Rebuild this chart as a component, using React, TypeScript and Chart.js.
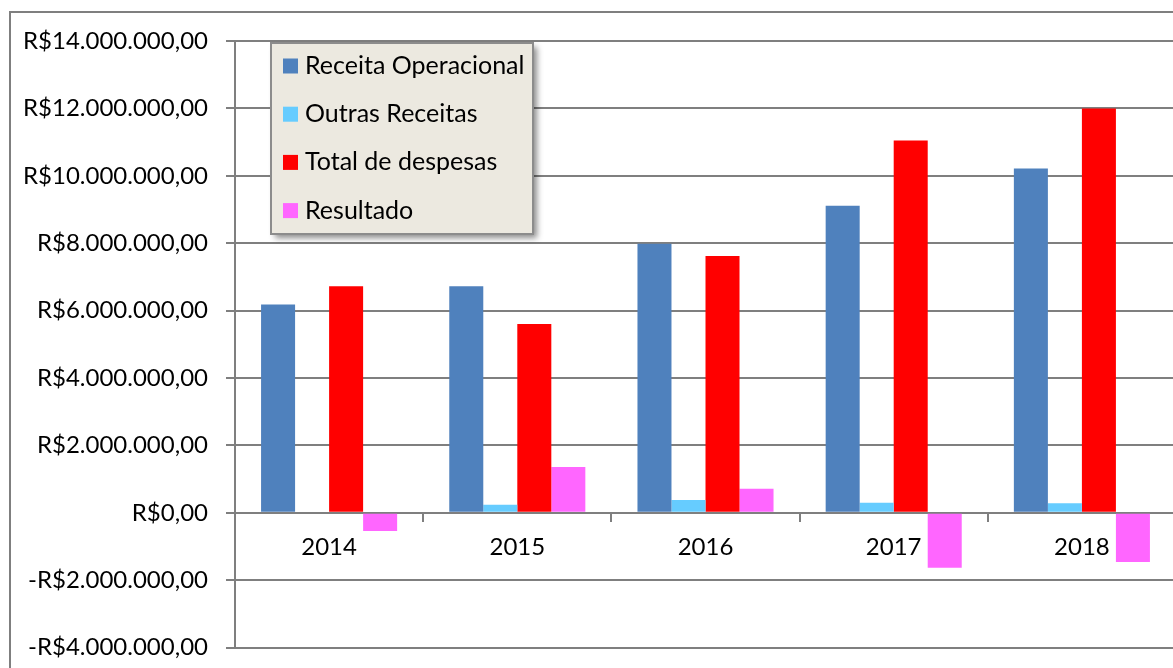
import React, { useEffect, useRef } from "react";
import { Chart, registerables } from "chart.js";

Chart.register(...registerables);

const categories = ["2014", "2015", "2016", "2017", "2018"];
const receitaOperacional = [6180000, 6720000, 7980000, 9110000, 10220000];
const outrasReceitas = [0, 240000, 380000, 300000, 280000];
const totalDespesas = [6720000, 5600000, 7620000, 11050000, 12000000];
const resultado = [-540000, 1360000, 710000, -1630000, -1460000];
const seriesNames = ["Receita Operacional", "Outras Receitas", "Total de despesas", "Resultado"];
const seriesColors = ["#4F81BD", "#66CCFF", "#FF0000", "#FF66FF"];

const FONT = "Lato, 'Liberation Sans', sans-serif";

function formatBRL(v: number): string {
  const abs = Math.abs(v);
  const s = Math.round(abs).toString().replace(/\B(?=(\d{3})+(?!\d))/g, ".");
  return (v < 0 ? "-" : "") + "R$" + s + ",00";
}

const framePlugin = {
  id: "frame",
  beforeDraw(chart: any) {
    const ctx = chart.ctx;
    ctx.save();
    ctx.strokeStyle = "#7F7F7F";
    ctx.lineWidth = 2;
    ctx.strokeRect(10, 12, chart.width + 20, chart.height + 20);
    ctx.restore();
  },
};

const legendPlugin = {
  id: "boxLegend",
  afterDraw(chart: any) {
    const ctx = chart.ctx;
    const x = 271, y = 43, w = 262, h = 191;
    ctx.save();
    ctx.shadowColor = "rgba(0,0,0,0.45)";
    ctx.shadowBlur = 6;
    ctx.shadowOffsetX = 4;
    ctx.shadowOffsetY = 4;
    ctx.fillStyle = "#ECE9E0";
    ctx.fillRect(x, y, w, h);
    ctx.shadowColor = "transparent";
    ctx.strokeStyle = "#8C8C8C";
    ctx.lineWidth = 2;
    ctx.strokeRect(x, y, w, h);
    ctx.font = "25px " + FONT;
    ctx.textBaseline = "middle";
    ctx.textAlign = "left";
    chart.data.datasets.forEach((ds: any, i: number) => {
      const cy = 66 + i * 48.2;
      ctx.fillStyle = ds.backgroundColor;
      ctx.fillRect(283, cy - 7.5, 15, 15);
      ctx.fillStyle = "#000000";
      ctx.fillText(ds.label, 305, cy);
    });
    ctx.restore();
  },
};

export default function App() {
  const ref = useRef<HTMLCanvasElement>(null);
  useEffect(() => {
    document.body.style.margin = "0";
    const data = [receitaOperacional, outrasReceitas, totalDespesas, resultado];
    const chart = new Chart(ref.current!, {
      type: "bar",
      data: {
        labels: categories,
        datasets: seriesNames.map((name, i) => ({
          label: name,
          data: data[i],
          backgroundColor: seriesColors[i],
          borderWidth: 0,
          barPercentage: 1,
          categoryPercentage: 0.723,
        })),
      },
      options: {
        animation: false,
        responsive: false,
        maintainAspectRatio: false,
        layout: { padding: { left: 0, top: 41, right: 0, bottom: 12 } },
        plugins: { legend: { display: false }, tooltip: { enabled: false }, title: { display: false } },
        scales: {
          x: {
            type: "category",
            position: { y: 0 } as any,
            offset: true,
            grid: {
              display: true,
              drawOnChartArea: false,
              drawTicks: true,
              tickLength: 8,
              offset: true,
              color: "#7F7F7F",
              lineWidth: 2,
            },
            border: { display: true, color: "#7F7F7F", width: 2 },
            ticks: { color: "#000", font: { family: FONT, size: 24 }, padding: 12 },
          },
          y: {
            min: -4000000,
            max: 14000000,
            afterFit(scale: any) {
              scale.width = 235;
            },
            ticks: {
              stepSize: 2000000,
              color: "#000",
              font: { family: FONT, size: 24 },
              padding: 18,
              callback: (v: any) => formatBRL(Number(v)),
            },
            grid: { color: "#7F7F7F", lineWidth: 2, tickLength: 9, drawTicks: true },
            border: { display: true, color: "#7F7F7F", width: 2 },
          },
        },
      },
      plugins: [framePlugin, legendPlugin],
    });
    return () => chart.destroy();
  }, []);
  return (
    <div style={{ position: "absolute", left: 0, top: 0, width: 1173, height: 668, overflow: "hidden", background: "#fff" }}>
      <canvas ref={ref} width={1176} height={680} style={{ width: 1176, height: 680, display: "block" }} />
    </div>
  );
}
